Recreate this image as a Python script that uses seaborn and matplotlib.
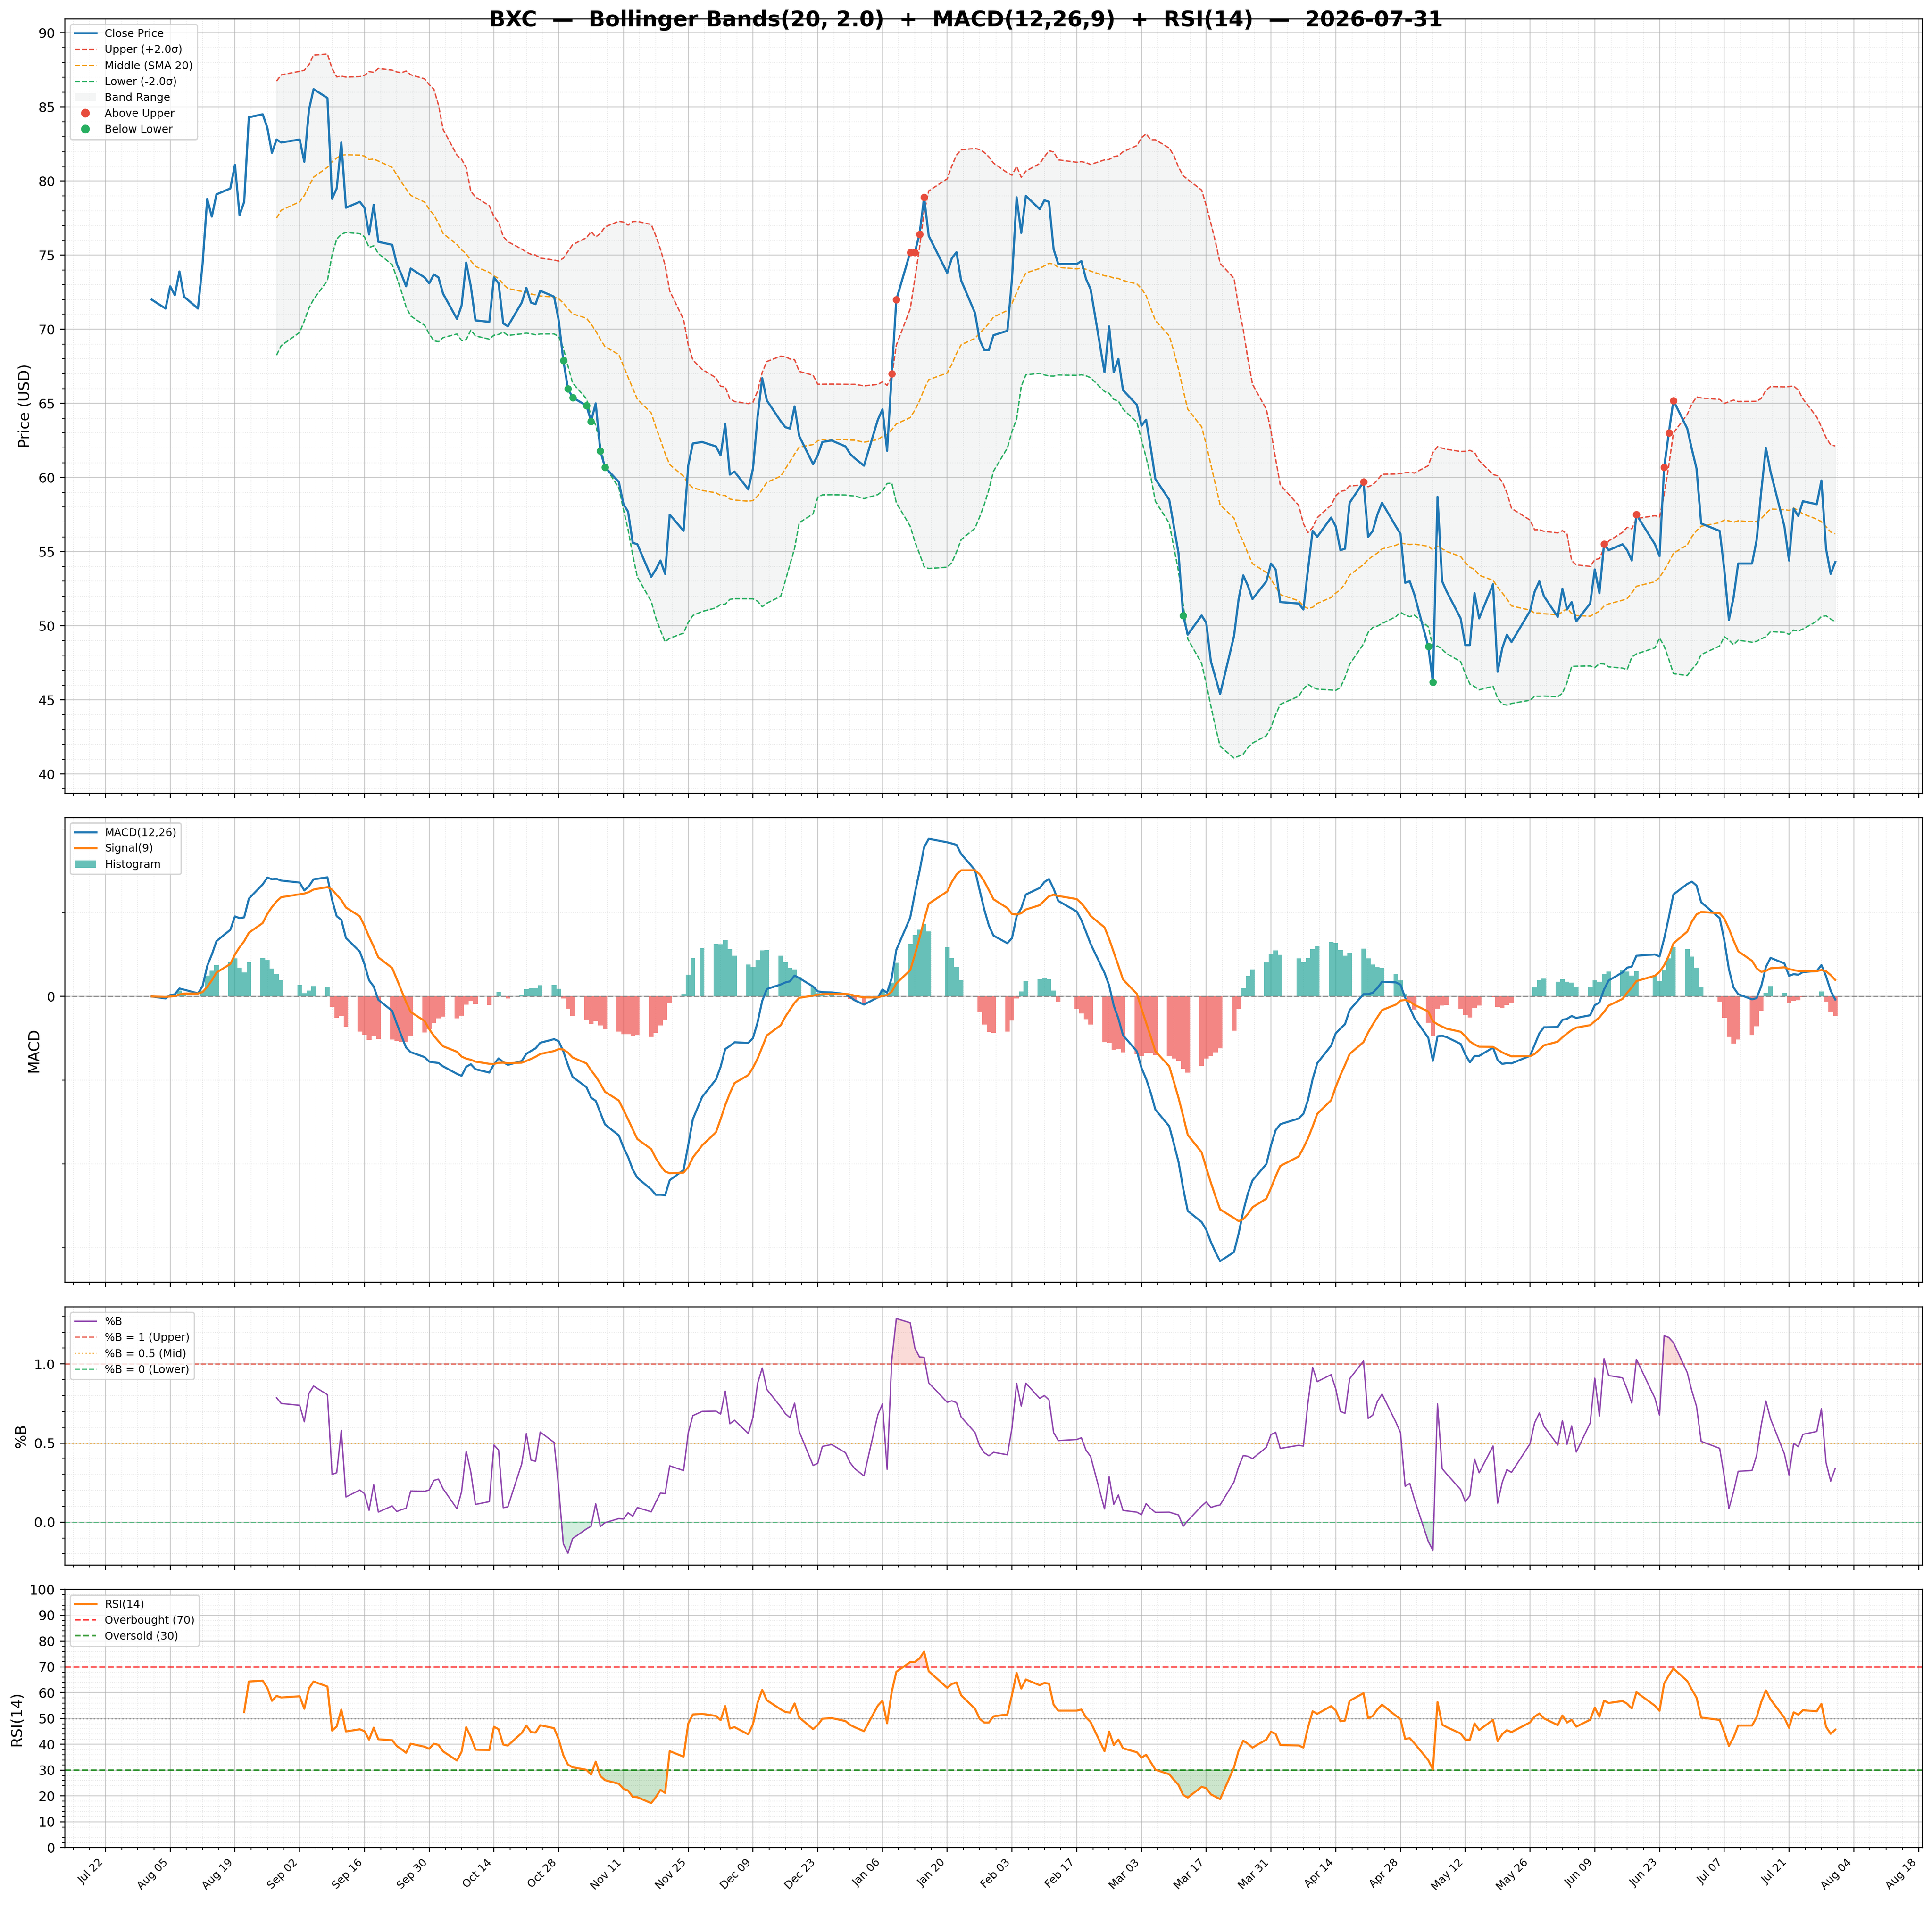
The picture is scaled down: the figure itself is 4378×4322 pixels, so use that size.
import numpy as np
import pandas as pd
import matplotlib
matplotlib.use("Agg")
import matplotlib.pyplot as plt
import matplotlib.dates as mdates
from matplotlib.ticker import AutoMinorLocator, FixedLocator, MultipleLocator
from matplotlib.lines import Line2D
from matplotlib.patches import Patch
import seaborn as sns

# ---------------- data ----------------
TICKER = "BXC"
AS_OF = "2026-07-31"
HOLIDAYS = ["2025-09-01", "2025-11-27", "2025-12-25", "2026-01-01", "2026-01-19",
            "2026-02-16", "2026-04-03", "2026-05-25", "2026-06-19", "2026-07-03"]
dates = pd.bdate_range("2025-08-01", "2026-07-31", freq="C", holidays=HOLIDAYS)

close_aug = [72.0, 71.4, 72.9, 72.3, 73.9, 72.2, 71.4, 74.4, 78.8, 77.6, 79.1, 79.5, 81.1,
             77.7, 78.6, 84.3, 84.5, 83.6, 81.9, 82.8, 82.6]
close_sep = [82.8, 81.3, 84.8, 86.2, 85.6, 78.8, 79.5, 82.6, 78.2, 78.6, 78.2, 76.4, 78.4,
             75.9, 75.7, 74.4, 73.7, 72.9, 74.1, 73.5, 73.1]
close_oct = [73.7, 73.5, 72.4, 70.7, 71.6, 74.5, 72.9, 70.6, 70.5, 73.5, 73.1, 70.4, 70.2,
             71.8, 72.8, 71.8, 71.7, 72.6, 72.2, 70.6, 67.9, 66.0, 65.4]
close_nov = [64.85, 63.8, 65.0, 61.8, 60.7, 59.7, 58.2, 57.7, 55.6, 55.5, 53.3, 53.8, 54.4,
             53.5, 57.5, 56.4, 60.8, 62.3, 62.4]
close_dec = [62.1, 61.5, 63.6, 60.2, 60.4, 59.2, 60.6, 64.1, 66.7, 65.2, 63.8, 63.4, 63.3,
             64.8, 62.8, 60.9, 61.5, 62.4, 62.5, 62.1, 61.6, 61.3]
close_jan = [60.8, 63.9, 64.6, 61.8, 67.0, 72.0, 75.2, 75.2, 76.4, 78.9, 76.3, 73.8, 74.8,
             75.2, 73.3, 71.1, 69.3, 68.6, 68.6, 69.6]
close_feb = [69.9, 73.4, 78.9, 76.5, 79.0, 78.1, 78.7, 78.6, 75.4, 74.4, 74.4, 74.6, 73.4,
             72.7, 67.1, 70.2, 67.1, 68.0, 65.9]
close_mar = [64.9, 63.5, 63.9, 62.0, 59.9, 58.5, 56.7, 54.9, 50.7, 49.4, 50.7, 50.2, 47.6,
             46.5, 45.4, 49.3, 51.8, 53.4, 52.7, 51.8, 53.0, 54.2]
close_apr = [53.8, 51.6, 51.5, 51.1, 53.8, 56.4, 56.0, 57.3, 56.7, 55.1, 55.2, 58.3, 59.7,
             56.0, 56.4, 57.5, 58.3, 56.7, 56.2, 52.9, 53.0]
close_may = [52.1, 48.6, 46.2, 58.7, 53.0, 52.3, 50.5, 48.7, 48.7, 52.2, 50.5, 52.8, 46.9,
             48.5, 49.4, 48.9, 51.0, 52.3, 53.0, 52.0]
close_jun = [50.6, 52.5, 51.1, 51.6, 50.3, 51.5, 53.8, 52.2, 55.5, 55.1, 55.5, 55.1, 54.4,
             57.5, 55.5, 54.7, 60.7, 63.0, 65.2, 63.3, 61.9]
close_jul = [60.6, 56.9, 56.4, 53.8, 50.4, 51.9, 54.2, 54.2, 55.8, 59.1, 62.0, 60.4, 56.7,
             54.4, 57.9, 57.4, 58.4, 58.2, 59.8, 55.2, 53.5, 54.3]

close_values = (close_aug + close_sep + close_oct + close_nov + close_dec + close_jan +
                close_feb + close_mar + close_apr + close_may + close_jun + close_jul)

BB_N, BB_K = 20, 2.0
MACD_FAST, MACD_SLOW, MACD_SIG = 12, 26, 9
RSI_N = 14

x_ticks = pd.date_range("2025-07-22", "2026-08-18", freq="14D")

# ---------------- indicators ----------------
close = pd.Series(close_values, index=dates[:len(close_values)])
dates = close.index
mid = close.rolling(BB_N).mean()
sd = close.rolling(BB_N).std()
upper = mid + BB_K * sd
lower = mid - BB_K * sd
pctb = (close - lower) / (upper - lower)

ema_f = close.ewm(span=MACD_FAST, adjust=False).mean()
ema_s = close.ewm(span=MACD_SLOW, adjust=False).mean()
macd = ema_f - ema_s
signal = macd.ewm(span=MACD_SIG, adjust=False).mean()
hist = macd - signal

delta = close.diff()
gain = delta.clip(lower=0)
loss = -delta.clip(upper=0)
avg_g = gain.ewm(alpha=1 / RSI_N, adjust=False, min_periods=RSI_N).mean()
avg_l = loss.ewm(alpha=1 / RSI_N, adjust=False, min_periods=RSI_N).mean()
rsi = 100 - 100 / (1 + avg_g / avg_l)

above = close > upper
below = close < lower

# ---------------- figure ----------------
C_CLOSE = "#1f77b4"
C_UP = "#e74c3c"
C_MID = "#f39c12"
C_LOW = "#27ae60"
C_BAND = "#95a5a6"
C_SIG = "#ff7f0e"

DPI = 220
fig = plt.figure(figsize=(4378 / DPI, 4322 / DPI), dpi=DPI)
gs = fig.add_gridspec(4, 1, height_ratios=[3, 1.8, 1, 1],
                      left=146.7 / 4378, right=4355.9 / 4378,
                      top=1 - 42.7 / 4322, bottom=1 - 4187.4 / 4322, hspace=0.056)
ax1 = fig.add_subplot(gs[0])
ax2 = fig.add_subplot(gs[1], sharex=ax1)
ax3 = fig.add_subplot(gs[2], sharex=ax1)
ax4 = fig.add_subplot(gs[3], sharex=ax1)
axes = [ax1, ax2, ax3, ax4]

LEG_FS = 8
LAB_FS = 11

# --- price panel ---
ax1.fill_between(dates, lower, upper, color=C_BAND, alpha=0.1, zorder=1)
sns.lineplot(x=dates, y=upper.values, ax=ax1, color=C_UP, linestyle="--", linewidth=1.0, zorder=2)
sns.lineplot(x=dates, y=mid.values, ax=ax1, color=C_MID, linestyle="--", linewidth=1.0, zorder=2)
sns.lineplot(x=dates, y=lower.values, ax=ax1, color=C_LOW, linestyle="--", linewidth=1.0, zorder=2)
sns.lineplot(x=dates, y=close.values, ax=ax1, color=C_CLOSE, linewidth=1.6, zorder=3)
sns.scatterplot(x=dates[above.values], y=close[above].values, ax=ax1, color=C_UP, s=30,
                linewidth=0, zorder=5)
sns.scatterplot(x=dates[below.values], y=close[below].values, ax=ax1, color=C_LOW, s=30,
                linewidth=0, zorder=5)
h1 = [Line2D([], [], color=C_CLOSE, lw=1.6),
      Line2D([], [], color=C_UP, lw=1.0, ls="--"),
      Line2D([], [], color=C_MID, lw=1.0, ls="--"),
      Line2D([], [], color=C_LOW, lw=1.0, ls="--"),
      Patch(facecolor=C_BAND, alpha=0.1),
      Line2D([], [], color=C_UP, marker="o", ls="", markersize=5.48),
      Line2D([], [], color=C_LOW, marker="o", ls="", markersize=5.48)]
l1 = ["Close Price", f"Upper (+{BB_K}σ)", f"Middle (SMA {BB_N})", f"Lower (-{BB_K}σ)",
      "Band Range", "Above Upper", "Below Lower"]
ax1.legend(h1, l1, loc="upper left", fontsize=LEG_FS)
ax1.set_ylabel("Price (USD)", fontsize=LAB_FS)
ax1.yaxis.set_major_locator(MultipleLocator(5))

# --- MACD panel ---
C_POS = "#26a69a"
C_NEG = "#ef5350"
bar_colors = [C_POS if v >= 0 else C_NEG for v in hist.values]
ax2.bar(dates, hist.values, width=1.0, color=bar_colors, alpha=0.7, zorder=1)
sns.lineplot(x=dates, y=macd.values, ax=ax2, color=C_CLOSE, linewidth=1.5, zorder=3)
sns.lineplot(x=dates, y=signal.values, ax=ax2, color=C_SIG, linewidth=1.5, zorder=3)
ax2.axhline(0, color="gray", linestyle="--", linewidth=1.0, alpha=0.8, zorder=2)
h2 = [Line2D([], [], color=C_CLOSE, lw=1.5), Line2D([], [], color=C_SIG, lw=1.5),
      Patch(facecolor=C_POS, alpha=0.7)]
ax2.legend(h2, [f"MACD({MACD_FAST},{MACD_SLOW})", f"Signal({MACD_SIG})", "Histogram"],
           loc="upper left", fontsize=LEG_FS)
ax2.set_ylabel("MACD", fontsize=LAB_FS)
ax2.yaxis.set_major_locator(FixedLocator([0]))
ax2.yaxis.set_minor_locator(MultipleLocator(2.0))

# --- %B panel ---
sns.lineplot(x=dates, y=pctb.values, ax=ax3, color="#8e44ad", linewidth=1.0, zorder=3)
ax3.axhline(1, color=C_UP, linestyle="--", linewidth=1.0, alpha=0.7)
ax3.axhline(0.5, color=C_MID, linestyle=":", linewidth=1.0, alpha=0.7)
ax3.axhline(0, color=C_LOW, linestyle="--", linewidth=1.0, alpha=0.7)
pb = pctb.values
ax3.fill_between(dates, pb, 1, where=pb > 1, interpolate=True, color=C_UP, alpha=0.2)
ax3.fill_between(dates, pb, 0, where=pb < 0, interpolate=True, color=C_LOW, alpha=0.2)
h3 = [Line2D([], [], color="#8e44ad", lw=1.0),
      Line2D([], [], color=C_UP, lw=1.0, ls="--", alpha=0.7),
      Line2D([], [], color=C_MID, lw=1.0, ls=":", alpha=0.7),
      Line2D([], [], color=C_LOW, lw=1.0, ls="--", alpha=0.7)]
ax3.legend(h3, ["%B", "%B = 1 (Upper)", "%B = 0.5 (Mid)", "%B = 0 (Lower)"],
           loc="upper left", fontsize=LEG_FS)
ax3.set_ylabel("%B", fontsize=LAB_FS)
ax3.yaxis.set_major_locator(MultipleLocator(0.5))

# --- RSI panel ---
sns.lineplot(x=dates, y=rsi.values, ax=ax4, color=C_SIG, linewidth=1.5, zorder=3)
ax4.axhline(70, color="red", linestyle="--", linewidth=1.2, alpha=0.8)
ax4.axhline(30, color="green", linestyle="--", linewidth=1.2, alpha=0.8)
ax4.axhline(50, color="gray", linestyle=":", linewidth=1.0, alpha=0.7)
rv = rsi.values
ax4.fill_between(dates, rv, 70, where=rv >= 70, interpolate=True, color="red", alpha=0.15)
ax4.fill_between(dates, rv, 30, where=rv <= 30, interpolate=True, color="green", alpha=0.2)
h4 = [Line2D([], [], color=C_SIG, lw=1.5),
      Line2D([], [], color="red", lw=1.2, ls="--", alpha=0.8),
      Line2D([], [], color="green", lw=1.2, ls="--", alpha=0.8)]
ax4.legend(h4, [f"RSI({RSI_N})", "Overbought (70)", "Oversold (30)"],
           loc="upper left", fontsize=LEG_FS)
ax4.set_ylabel(f"RSI({RSI_N})", fontsize=LAB_FS)
ax4.set_ylim(0, 100)
ax4.yaxis.set_major_locator(MultipleLocator(10))

# --- common axis styling ---
x0 = dates[0] - pd.Timedelta(days=18.8)
x1 = dates[-1] + pd.Timedelta(days=18.8)
for ax in axes:
    ax.set_xlim(x0, x1)
    ax.xaxis.set_major_locator(FixedLocator(mdates.date2num(x_ticks)))
    ax.xaxis.set_major_formatter(mdates.DateFormatter("%b %d"))
    ax.xaxis.set_minor_locator(AutoMinorLocator(4))
    if ax is not ax2:
        ax.yaxis.set_minor_locator(AutoMinorLocator())
    ax.set_axisbelow(True)
    ax.grid(True, which="major", color="#b0b0b0", alpha=0.6, linewidth=0.8)
    ax.grid(True, which="minor", color="#b0b0b0", alpha=0.3, linestyle=":", linewidth=0.6)
    ax.tick_params(axis="y", labelsize=10)
    ax.set_xlabel("")
    if ax is not ax4:
        ax.tick_params(axis="x", labelbottom=False)
for lab in ax4.get_xticklabels():
    lab.set_rotation(45)
    lab.set_ha("right")
    lab.set_fontsize(8)

fig.suptitle(f"{TICKER}  —  Bollinger Bands({BB_N}, {BB_K})  +  MACD({MACD_FAST},{MACD_SLOW},{MACD_SIG})"
             f"  +  RSI({RSI_N})  —  {AS_OF}",
             fontsize=16, fontweight="bold", x=0.5, y=1 - 22 / 4322, va="top")

fig.savefig("out.png", dpi=DPI)
